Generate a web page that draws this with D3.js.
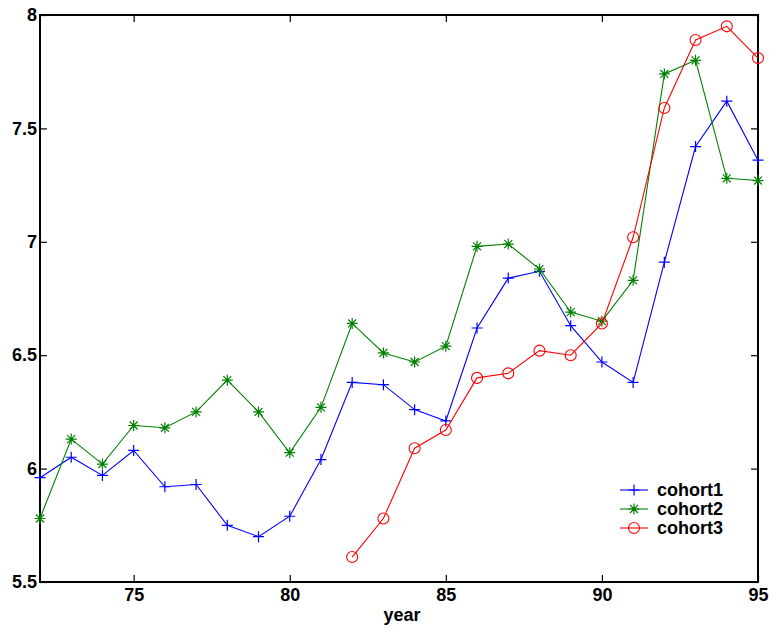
<!DOCTYPE html>
<html>
<head>
<meta charset="utf-8">
<script src="https://cdn.jsdelivr.net/npm/d3@7"></script>
<style>
  html, body { margin: 0; padding: 0; background: #fff; }
  svg { display: block; font-family: "Liberation Sans", Arial, Helvetica, sans-serif; }
</style>
</head>
<body>
<svg id="chart" width="776" height="632"></svg>
<script>
// Years covered by the first two cohorts and by the third one
const years12 = [72, 73, 74, 75, 76, 77, 78, 79, 80, 81, 82, 83, 84, 85, 86, 87, 88, 89, 90, 91, 92, 93, 94, 95];
const years3 = [82, 83, 84, 85, 86, 87, 88, 89, 90, 91, 92, 93, 94, 95];

const cohort1 = [5.96, 6.05, 5.97, 6.08, 5.92, 5.93, 5.75, 5.70, 5.79, 6.04, 6.38, 6.37,
                 6.26, 6.21, 6.62, 6.84, 6.87, 6.63, 6.47, 6.38, 6.91, 7.42, 7.62, 7.36];
const cohort2 = [5.78, 6.13, 6.02, 6.19, 6.18, 6.25, 6.39, 6.25, 6.07, 6.27, 6.64, 6.51,
                 6.47, 6.54, 6.98, 6.99, 6.88, 6.69, 6.65, 6.83, 7.74, 7.80, 7.28, 7.27];
const cohort3 = [5.61, 5.78, 6.09, 6.17, 6.40, 6.42, 6.52, 6.50, 6.64, 7.02, 7.59, 7.89, 7.95, 7.81];

const xTicks = [75, 80, 85, 90, 95];
const yTicks = [5.5, 6, 6.5, 7, 7.5, 8];
const xLabel = "year";

const series = [
  { name: "cohort1", years: years12, values: cohort1, color: "#0000ff", marker: "plus" },
  { name: "cohort2", years: years12, values: cohort2, color: "#008000", marker: "star" },
  { name: "cohort3", years: years3, values: cohort3, color: "#ff0000", marker: "circle" }
];

const W = 776, H = 632;
const margin = { top: 15, right: 18, bottom: 50, left: 40 };
const svg = d3.select("#chart");

const x = d3.scaleLinear().domain([72, 95]).range([margin.left, W - margin.right]);
const y = d3.scaleLinear().domain([5.5, 8]).range([H - margin.bottom, margin.top]);

const tickLen = 7;
const fontSize = 18;

// Axes: ticks point inward on all four sides
const gBottom = svg.append("g")
  .attr("transform", `translate(0,${y.range()[0]})`)
  .call(d3.axisBottom(x).tickValues(xTicks).tickFormat(d3.format("d"))
    .tickSizeInner(-tickLen).tickSizeOuter(0).tickPadding(6));
const gTop = svg.append("g")
  .attr("transform", `translate(0,${y.range()[1]})`)
  .call(d3.axisTop(x).tickValues(xTicks).tickFormat("")
    .tickSizeInner(-tickLen).tickSizeOuter(0));
const gLeft = svg.append("g")
  .attr("transform", `translate(${x.range()[0]},0)`)
  .call(d3.axisLeft(y).tickValues(yTicks).tickFormat(d3.format("~g"))
    .tickSizeInner(-tickLen).tickSizeOuter(0).tickPadding(3));
const gRight = svg.append("g")
  .attr("transform", `translate(${x.range()[1]},0)`)
  .call(d3.axisRight(y).tickValues(yTicks).tickFormat("")
    .tickSizeInner(-tickLen).tickSizeOuter(0));

[gBottom, gTop, gLeft, gRight].forEach(g => {
  g.select(".domain").remove();
  g.selectAll(".tick line").attr("stroke", "#000").attr("stroke-width", 1.2);
  g.selectAll(".tick text")
    .attr("fill", "#000")
    .attr("font-size", fontSize)
    .attr("font-weight", "bold")
    .attr("font-family", "'Liberation Sans', Arial, sans-serif");
});

// Frame around the plotting area
svg.append("rect")
  .attr("x", x.range()[0])
  .attr("y", y.range()[1])
  .attr("width", x.range()[1] - x.range()[0])
  .attr("height", y.range()[0] - y.range()[1])
  .attr("fill", "none")
  .attr("stroke", "#000")
  .attr("stroke-width", 2);

// Axis title
svg.append("text")
  .attr("x", (x.range()[0] + x.range()[1]) / 2 + 3)
  .attr("y", 621)
  .attr("text-anchor", "middle")
  .attr("font-size", fontSize)
  .attr("font-weight", "bold")
  .text(xLabel);

// Marker drawing
const mSize = 5.5;
function drawMarker(g, kind, cx, cy, color) {
  if (kind === "plus") {
    g.append("path")
      .attr("d", `M${cx - mSize},${cy}H${cx + mSize}M${cx},${cy - mSize}V${cy + mSize}`)
      .attr("stroke", color).attr("stroke-width", 1.2).attr("fill", "none");
  } else if (kind === "star") {
    const d = mSize * 0.72;
    g.append("path")
      .attr("d", `M${cx - mSize},${cy}H${cx + mSize}M${cx},${cy - mSize}V${cy + mSize}` +
                 `M${cx - d},${cy - d}L${cx + d},${cy + d}M${cx - d},${cy + d}L${cx + d},${cy - d}`)
      .attr("stroke", color).attr("stroke-width", 1.2).attr("fill", "none");
  } else {
    g.append("circle")
      .attr("cx", cx).attr("cy", cy).attr("r", mSize)
      .attr("stroke", color).attr("stroke-width", 1.1).attr("fill", "none");
  }
}

const line = d3.line().x(d => x(d[0])).y(d => y(d[1]));

series.forEach(s => {
  const pts = s.years.map((yr, i) => [yr, s.values[i]]);
  const g = svg.append("g").attr("class", s.name);
  g.append("path")
    .datum(pts)
    .attr("d", line)
    .attr("fill", "none")
    .attr("stroke", s.color)
    .attr("stroke-width", 1.1);
  pts.forEach(p => drawMarker(g, s.marker, x(p[0]), y(p[1]), s.color));
});

// Legend
const legend = svg.append("g");
const legX0 = 620, legX1 = 648, legY0 = 490, legDy = 19;
series.forEach((s, i) => {
  const ly = legY0 + i * legDy;
  legend.append("line")
    .attr("x1", legX0).attr("x2", legX1).attr("y1", ly).attr("y2", ly)
    .attr("stroke", s.color).attr("stroke-width", 1.1);
  drawMarker(legend, s.marker, (legX0 + legX1) / 2, ly, s.color);
  legend.append("text")
    .attr("x", 657)
    .attr("y", ly)
    .attr("dy", "0.36em")
    .attr("font-size", 18)
    .attr("font-weight", "bold")
    .attr("fill", "#000")
    .text(s.name);
});
</script>
</body>
</html>
